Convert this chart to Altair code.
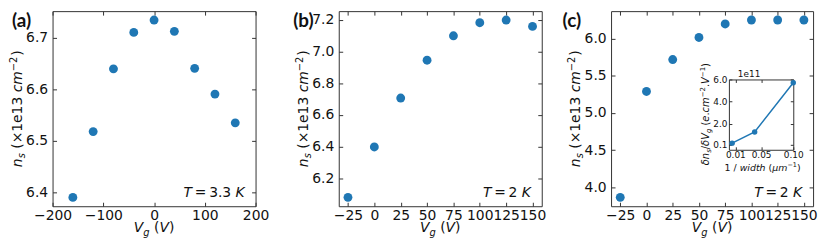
import altair as alt
import pandas as pd

# ---------------- data ----------------
vg_a = [-160, -120, -80, -40, 0, 40, 80, 120, 160]
ns_a = [6.390, 6.518, 6.640, 6.711, 6.735, 6.713, 6.641, 6.591, 6.535]
vg_bc = [-25, 0, 25, 50, 75, 100, 125, 150]
ns_b = [6.082, 6.399, 6.707, 6.945, 7.099, 7.181, 7.198, 7.158]
ns_c = [3.865, 5.288, 5.717, 6.013, 6.195, 6.248, 6.248, 6.248]
inv_width = [0.005, 0.04, 0.10]          # 1 / width (um^-1)
dn_dvg = [0.25, 1.26, 5.70]              # x 1e11

xticks_a = [-200, -100, 0, 100, 200]
yticks_a = [6.4, 6.5, 6.6, 6.7]
xticks_bc = [-25, 0, 25, 50, 75, 100, 125, 150]
yticks_b = [6.2, 6.4, 6.6, 6.8, 7.0, 7.2]
yticks_c = [4.0, 4.5, 5.0, 5.5, 6.0]
xticks_in = [0.01, 0.05, 0.10]
yticks_in = [0.1, 2.0, 4.0, 6.0]
temps = ["3.3", "2", "2"]
tags = ["(a)", "(b)", "(c)"]

# ---------------- style / layout ----------------
FONT = "DejaVu Sans"
INK = "#111111"
FRAME = "#333333"
BLUE = "#1f77b4"
W, H = 768, 197
X0 = [0, 289, 564]
X1 = [205, 494, 768]

W_EM = {
    "0": .636, "1": .636, "2": .636, "3": .636, "4": .636, "5": .636, "6": .636,
    "7": .636, "8": .636, "9": .636, " ": .318, ".": .318, "(": .390, ")": .390,
    "×": .838, "−": .838, "=": .838, "/": .337, "e": .615, "c": .550, "m": .974,
    "n": .634, "s": .521, "g": .635, "V": .684, "T": .611, "K": .656, "w": .818,
    "i": .278, "d": .635, "t": .392, "h": .634, "μ": .636, "δ": .612,
}


def text_w(s, size):
    return sum(W_EM.get(ch, 0.6) for ch in s) * size


dummy = pd.DataFrame({"k": [0]})


def piece(text, x, y, size, italic=False, angle=0, weight="normal", font=FONT, align="left"):
    kw = dict(text=text, font=font, fontSize=size, align=align, baseline="alphabetic",
              color=INK, fontWeight=weight)
    if italic:
        kw["fontStyle"] = "italic"
    if angle:
        kw["angle"] = angle
    return alt.Chart(dummy).mark_text(**kw).encode(x=alt.value(x), y=alt.value(y))


def rich(parts, x, y, angle=0, anchor="start"):
    total = sum(g + text_w(t, s) for t, s, it, sh, g in parts)
    start = {"start": 0, "center": -total / 2, "end": -total}[anchor]
    out = []
    cum = start
    for t, s, it, sh, g in parts:
        cum += g
        if angle == 0:
            out.append(piece(t, x + cum, y + sh, s, it))
        else:
            out.append(piece(t, x + sh, y - cum, s, it, angle=270))
        cum += text_w(t, s)
    return out


def make_axis(orient, offset, values, fmt="d", labels=True, size=14, tick=4, pad=5):
    kw = dict(orient=orient, offset=offset, values=values, domain=False, grid=False,
              ticks=True, tickSize=tick, tickColor=FRAME, tickWidth=1, title=None,
              labelOverlap=False, labelFlush=False, labels=labels)
    if labels:
        kw.update(format=fmt, labelFont=FONT, labelFontSize=size, labelColor=INK,
                  labelPadding=pad)
    return alt.Axis(**kw)


def frame(x0, x1, y0, y1):
    return alt.Chart(dummy).mark_rect(fillOpacity=0, stroke=FRAME, strokeWidth=1).encode(
        x=alt.value(x0 + 0.5), x2=alt.value(x1 + 0.5), y=alt.value(y0 + 0.5), y2=alt.value(y1 + 0.5))


def data_layers(df, mark, xdom, xr, ydom, yr, xticks, yticks, xfmt, yfmt, offs,
                tick=4, lsize=14, xpad=2, ypad=5):
    xs = alt.Scale(domain=xdom, range=xr, nice=False, zero=False)
    ys = alt.Scale(domain=ydom, range=yr, nice=False, zero=False)
    ob, ol, ot, orr = offs
    main = mark.encode(
        x=alt.X("x:Q", scale=xs, axis=make_axis("bottom", ob, xticks, xfmt, True, lsize, tick, xpad)),
        y=alt.Y("y:Q", scale=ys, axis=make_axis("left", ol, yticks, yfmt, True, lsize, tick, ypad)),
    )
    ghost = alt.Chart(df).mark_circle(opacity=0).encode(
        x=alt.X("x:Q", scale=xs, axis=make_axis("top", ot, xticks, labels=False, tick=tick)),
        y=alt.Y("y:Q", scale=ys, axis=make_axis("right", orr, yticks, labels=False, tick=tick)),
    )
    return [main, ghost]


df_a = pd.DataFrame({"x": vg_a, "y": ns_a})
df_b = pd.DataFrame({"x": vg_bc, "y": ns_b})
df_c = pd.DataFrame({"x": vg_bc, "y": ns_c})
df_in = pd.DataFrame({"x": inv_width, "y": dn_dvg})

panels = [
    (df_a, [-200, 200], [6.3728, 6.7523], xticks_a, yticks_a),
    (df_b, [-33.75, 158.75], [6.026, 7.254], xticks_bc, yticks_b),
    (df_c, [-33.75, 158.75], [3.746, 6.367], xticks_bc, yticks_c),
]
tag_dx = [-41, -46, -49]

layers = []
for i, (df, xdom, ydom, xt, yt) in enumerate(panels):
    x0, x1 = X0[i], X1[i]
    layers.append(frame(x0, x1, 0, H))
    mark = alt.Chart(df).mark_circle(size=80, color=BLUE, opacity=1)
    offs = (-4, -(x0 + 4), -4, (x1 - 4) - W)
    layers += data_layers(df, mark, xdom, [x0, x1], ydom, [H, 0], xt, yt, "d", ".1f", offs)
    # temperature label
    layers += rich([("T", 14, True, 0, 0), ("=", 14, False, 0, 2.8),
                    (temps[i], 14, False, 0, 2.8), ("K", 14, True, 0, 4.45)],
                   x1 - 11, 188, anchor="end")
    # x title  V_g (V)
    layers += rich([("V", 14, True, 0, 0), ("g", 10, True, 4, 0), ("(", 14, False, 0, 4.45),
                    ("V", 14, True, 0, 0), (")", 14, False, 0, 0)],
                   (x0 + x1) / 2, 223, anchor="center")
    # y title  n_s (x1e13 cm^-2)
    layers += rich([("n", 14, True, 0, 0), ("s", 10, True, 3, 0), ("(×1e13", 14, False, 0, 4.45),
                    ("cm", 14, True, 0, 4.45), ("−2", 10, False, -5, 0), (")", 14, False, 0, 1)],
                   x0 - 31, H / 2, angle=270, anchor="center")
    # panel tag
    layers.append(piece(tags[i], x0 + tag_dx[i], 16, 19, weight="bold", font="Lato"))

# ---------------- inset in panel (c) ----------------
IX0, IX1, IY0, IY1 = 683, 748, 69, 140
layers.append(frame(IX0, IX1, IY0, IY1))
inset_mark = alt.Chart(df_in).mark_line(
    color=BLUE, strokeWidth=1.5,
    point=alt.OverlayMarkDef(size=30, color=BLUE, filled=True, opacity=1))
inset_offs = (-(H - IY1 + 3), -(IX0 + 3), -(IY0 + 3), (IX1 - 3) - W)
layers += data_layers(df_in, inset_mark, [0, 0.1], [IX0, IX1], [-0.35, 6.0], [IY1, IY0],
                      xticks_in, yticks_in, ".2f", ".1f", inset_offs,
                      tick=3, lsize=9, xpad=1, ypad=2)
layers.append(piece("1e11", 692, 67, 9))
layers += rich([("1", 9.5, False, 0, 0), ("/", 9.5, False, 0, 3), ("width", 9.5, True, 0, 3),
                ("(", 9.5, False, 0, 3), ("μm", 9.5, True, 0, 0), ("−1", 6.5, False, -3.5, 0),
                (")", 9.5, False, 0, 0)],
               717, 161, anchor="center")
layers += rich([("δn", 10, True, 0, 0), ("s", 7, True, 2, 0), ("/", 10, False, 0, 0),
                ("δV", 10, True, 0, 0), ("g", 7, True, 2, 0), ("(", 10, False, 0, 3.2),
                ("e", 10, True, 0, 0), (".", 10, False, 0, 0), ("cm", 10, True, 0, 0),
                ("−2", 7, False, -4, 0), (".", 10, False, 0, 0), ("V", 10, True, 0, 0),
                ("−1", 7, False, -4, 0), (")", 10, False, 0, 0)],
               663, 104, angle=270, anchor="center")

chart = alt.layer(*layers).resolve_scale(x="independent", y="independent").properties(
    width=W, height=H,
    autosize=alt.AutoSizeParams(type="none"),
    padding={"left": 45, "top": 2, "right": 8, "bottom": 40},
).configure_view(strokeWidth=0)

chart.save("out.html", embed_options={"renderer": "svg", "actions": False})
